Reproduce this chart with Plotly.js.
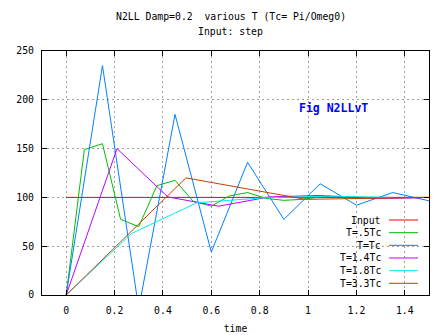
<!DOCTYPE html>
<html>
<head>
<meta charset="utf-8">
<script src="https://cdn.plot.ly/plotly-3.0.1.min.js"></script>
<style>html,body{margin:0;padding:0;background:#fff;}#chart{width:447px;height:335px;}</style>
</head>
<body>
<div id="chart"></div>
<script>
// ---- data ----
const seriesNames = ['Input', 'T=.5Tc', 'T=Tc', 'T=1.4Tc', 'T=1.8Tc', 'T=3.3Tc'];

const tInput = [0, 1.5];
const vInput = [100, 100];

const tHalf = [0, 0.075, 0.15, 0.225, 0.3, 0.375, 0.45, 0.525, 0.6, 0.675, 0.75, 0.825, 0.9, 0.975, 1.05, 1.125, 1.2, 1.275, 1.35, 1.425, 1.5];
const vHalf = [0, 149, 155, 77.5, 70, 112, 117.5, 96, 91, 101.5, 105, 99, 97, 98, 100.5, 101, 100, 99.5, 99.5, 100, 100];

const tOne = [0, 0.15, 0.3, 0.45, 0.6, 0.75, 0.9, 1.05, 1.2, 1.35, 1.5];
const vOne = [0, 235, -14, 185, 44, 136, 77.5, 114, 92, 105, 96.5];

const tOnePt4 = [0, 0.21, 0.42, 0.63, 0.84, 1.05, 1.26, 1.47];
const vOnePt4 = [0, 150, 100.5, 91, 100.5, 102, 99, 99.5];

const tOnePt8 = [0, 0.27, 0.54, 0.81, 1.08, 1.35];
const vOnePt8 = [0, 63, 94.5, 99.5, 101.3, 100];

const tThreePt3 = [0, 0.495, 0.99, 1.485];
const vThreePt3 = [0, 120, 98, 100];

const xTicks = [0, 0.2, 0.4, 0.6, 0.8, 1, 1.2, 1.4];
const xTickLabels = ['0', '0.2', '0.4', '0.6', '0.8', '1', '1.2', '1.4'];
const yTicks = [0, 50, 100, 150, 200, 250];
const yTickLabels = ['0', '50', '100', '150', '200', '250'];

// ---- styling ----
const colors = ['#ff0000', '#00c000', '#0080ff', '#c000ff', '#00eeee', '#c04000'];
const FONT = 'DejaVu Sans Mono';
const W = 447, H = 335;
const M = {l: 42, r: 18, t: 51, b: 40};
const PW = W - M.l - M.r, PH = H - M.t - M.b;
const px2x = p => (p - M.l) / PW;
const py2y = p => (H - M.b - p) / PH;

const xs = [tInput, tHalf, tOne, tOnePt4, tOnePt8, tThreePt3];
const ys = [vInput, vHalf, vOne, vOnePt4, vOnePt8, vThreePt3];

const traces = xs.map((x, i) => ({
  x: x, y: ys[i], type: 'scatter', mode: 'lines', name: seriesNames[i],
  line: {color: colors[i], width: 1}, hoverinfo: 'skip', cliponaxis: true
}));

const annotations = [
  {text: 'N2LL Damp=0.2\u00a0 various T (Tc= Pi/Omeg0)', x: px2x(231), y: py2y(16)},
  {text: 'Input: step', x: px2x(230.5), y: py2y(31.5)}
].map(a => Object.assign({xref: 'paper', yref: 'paper', xanchor: 'center', yanchor: 'middle',
  showarrow: false, font: {family: FONT, size: 9.8, color: '#000'}}, a));

annotations.push({text: '<b>Fig N2LLvT</b>', xref: 'paper', yref: 'paper', x: px2x(296.5), y: py2y(107.5),
  xanchor: 'left', yanchor: 'middle', showarrow: false, font: {family: FONT, size: 11.5, color: '#0000ff'}});

const shapes = [{type: 'rect', xref: 'paper', yref: 'paper', x0: px2x(336), x1: 1, y0: 0, y1: py2y(212),
  fillcolor: '#ffffff', line: {width: 0}, layer: 'between'}];

const legendRow0 = 220, legendStep = 12.66;
seriesNames.forEach((n, i) => {
  const py = legendRow0 + i * legendStep;
  annotations.push({text: n, xref: 'paper', yref: 'paper', x: px2x(382.5), y: py2y(py),
    xanchor: 'right', yanchor: 'middle', showarrow: false, font: {family: FONT, size: 9.8, color: '#000'}});
  shapes.push({type: 'line', xref: 'paper', yref: 'paper', x0: px2x(389), x1: px2x(418), y0: py2y(py), y1: py2y(py),
    line: {color: colors[i], width: 1}, layer: 'above'});
});

const axisCommon = {
  showline: true, linecolor: '#000', linewidth: 1, mirror: 'ticks',
  ticks: 'inside', ticklen: 5, tickwidth: 1, tickcolor: '#000',
  showgrid: true, gridcolor: '#a0a0a0', gridwidth: 1, griddash: '2px,3px',
  zeroline: false, tickfont: {family: FONT, size: 9.8, color: '#000'}, fixedrange: true
};

const layout = {
  width: W, height: H, margin: M, paper_bgcolor: '#fff', plot_bgcolor: '#fff',
  showlegend: false,
  xaxis: Object.assign({}, axisCommon, {range: [-0.1, 1.5], tickvals: xTicks, ticktext: xTickLabels,
    ticklabelstandoff: 6,
    title: {text: 'time', font: {family: FONT, size: 9.8, color: '#000'}, standoff: 10}}),
  yaxis: Object.assign({}, axisCommon, {range: [0, 250], tickvals: yTicks, ticktext: yTickLabels,
    ticklabelstandoff: 5}),
  annotations: annotations, shapes: shapes
};

Plotly.newPlot('chart', traces, layout, {staticPlot: true, displayModeBar: false});
</script>
</body>
</html>
